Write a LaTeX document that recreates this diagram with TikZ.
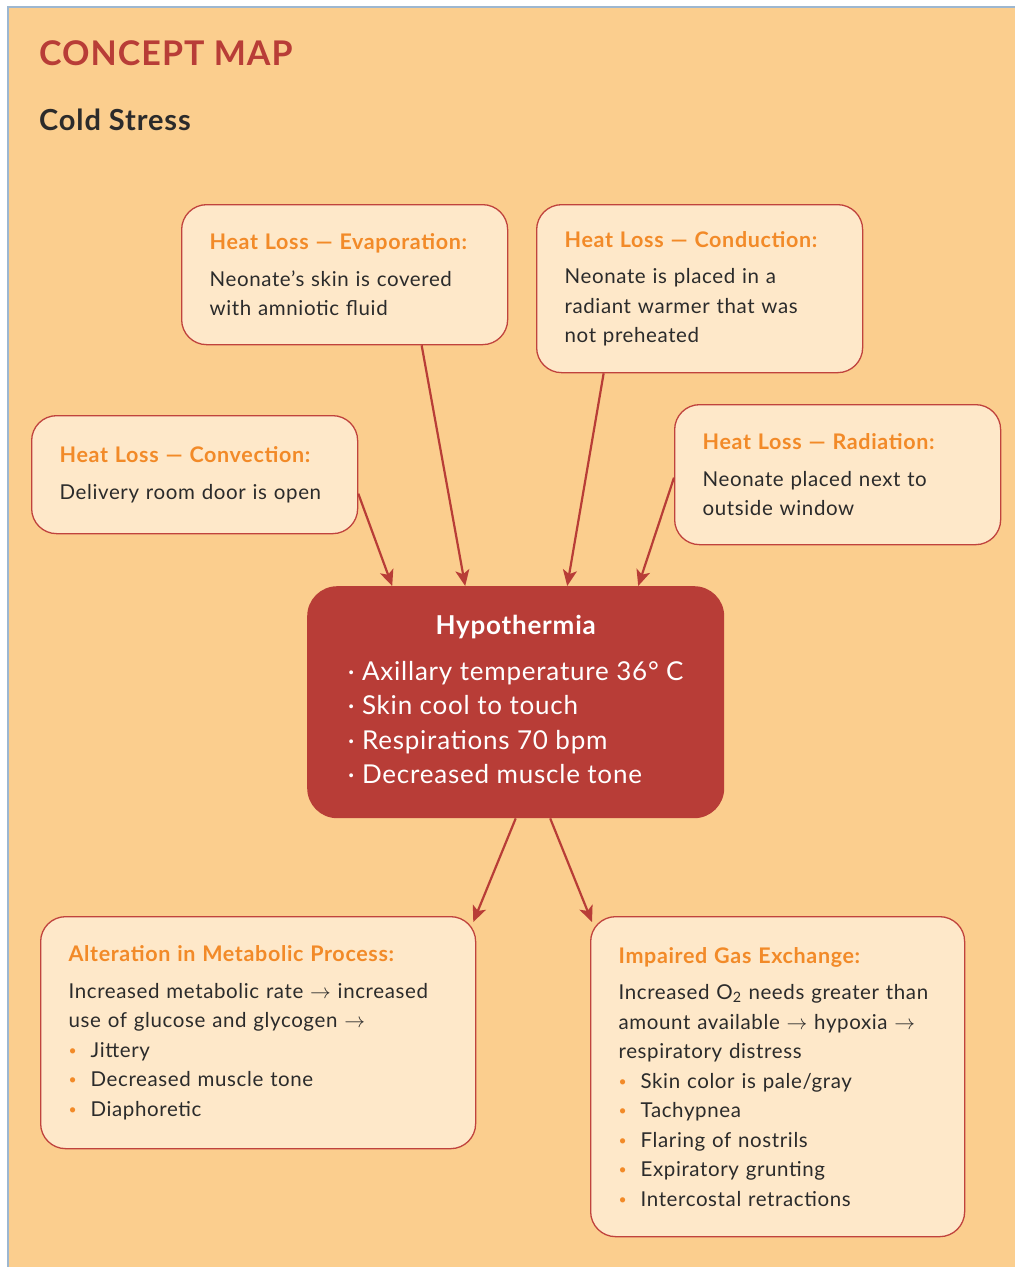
\documentclass[tikz,border=0pt]{standalone}
\usepackage{fontspec}
\setmainfont{Lato}[LetterSpace=3]
\usetikzlibrary{arrows.meta,positioning}

\definecolor{pagebg}{HTML}{FBCE8E}
\definecolor{boxfill}{HTML}{FEE8C9}
\definecolor{boxline}{HTML}{C0433D}
\definecolor{mapred}{HTML}{B83D37}
\definecolor{headorange}{HTML}{F28A28}
\definecolor{bodytext}{HTML}{2B2B2B}
\definecolor{frameline}{HTML}{9DB7D0}

\newcommand{\boxhead}[1]{\textcolor{headorange}{\fontsize{21.5}{29.5}\selectfont\bfseries #1}}
\newcommand{\orangedot}{\makebox[22pt][l]{\textcolor{headorange}{\fontsize{14}{14}\selectfont\raisebox{2pt}{•}}}}

\tikzset{
	conceptbox/.style={draw=boxline, fill=boxfill, line width=1.3pt, rounded corners=25pt,
		anchor=north west, align=left, inner xsep=28pt, inner ysep=0pt, text=bodytext,
		font=\fontsize{20.5}{29.5}\selectfont},
	centrebox/.style={fill=mapred, rounded corners=30pt, anchor=north west, text=white,
		minimum width=417pt, minimum height=232pt, font=\fontsize{26}{34.6}\selectfont},
	link/.style={draw=mapred, line width=2.2pt, -{Stealth[length=16pt,width=14pt,inset=4pt]}},
}

\begin{document}
\begin{tikzpicture}[x=1pt, y=-1pt]
	\useasboundingbox (0,0) rectangle (1015,1267);
	\fill[white] (0,0) rectangle (1015,1267);
	\fill[pagebg] (8,7) rectangle (1015,1267);
	\draw[frameline, line width=1.5pt] (8,1267) -- (8,7) -- (1015,7);
	
	% titles
	\node[anchor=base west, inner sep=0pt, mapred, font=\fontsize{34}{34}\selectfont\bfseries] (title) at (39,65) {CONCEPT MAP};
	\node[anchor=base west, inner sep=0pt, bodytext, font=\fontsize{29}{29}\selectfont\bfseries] (sub) at (39,130) {Cold Stress};
	
	% heat loss boxes
	\node[conceptbox, text width=270pt, minimum height=140pt] (evap) at (181,204)
		{\boxhead{Heat Loss — Evaporation:}\\[7pt]
		 Neonate’s skin is covered\\ with amniotic fluid};
	\node[conceptbox, text width=270pt, minimum height=168pt] (cond) at (536,204)
		{\boxhead{Heat Loss — Conduction:}\\[7pt]
		 Neonate is placed in a\\ radiant warmer that was\\ not preheated};
	\node[conceptbox, text width=270pt, minimum height=118pt] (conv) at (31,415)
		{\boxhead{Heat Loss — Convection:}\\[7pt]
		 Delivery room door is open};
	\node[conceptbox, text width=270pt, minimum height=140pt] (rad) at (674,404)
		{\boxhead{Heat Loss — Radiation:}\\[7pt]
		 Neonate placed next to\\ outside window};
	
	% centre
	\node[centrebox] (hypo) at (307,586)
		{\begin{tabular}{@{}l@{}}
			\multicolumn{1}{@{}c@{}}{\bfseries\fontsize{26}{30}\selectfont Hypothermia}\\[11pt]
			· Axillary temperature 36° C\\
			· Skin cool to touch\\
			· Respirations 70 bpm\\
			· Decreased muscle tone
		\end{tabular}};
	
	% outcome boxes
	\node[conceptbox, text width=379pt, minimum height=232pt] (metab) at (40,916)
		{\boxhead{Alteration in Metabolic Process:}\\[7pt]
		 Increased metabolic rate $\rightarrow$ increased\\
		 use of glucose and glycogen $\rightarrow$\\
		 \orangedot Jittery\\
		 \orangedot Decreased muscle tone\\
		 \orangedot Diaphoretic};
	\node[conceptbox, text width=318pt, minimum height=320pt] (gas) at (590,916)
		{\boxhead{Impaired Gas Exchange:}\\[7pt]
		 Increased O\textsubscript{2} needs greater than\\
		 amount available $\rightarrow$ hypoxia $\rightarrow$\\
		 respiratory distress\\
		 \orangedot Skin color is pale/gray\\
		 \orangedot Tachypnea\\
		 \orangedot Flaring of nostrils\\
		 \orangedot Expiratory grunting\\
		 \orangedot Intercostal retractions};
	
	% arrows
	\draw[link] ([yshift=-19pt]conv.east) to ([xshift=-123.5pt]hypo.north);
	\draw[link] ([xshift=77pt]evap.south) to ([xshift=-50.5pt]hypo.north);
	\draw[link] ([xshift=-96pt]cond.south) to ([xshift=51.5pt]hypo.north);
	\draw[link] ([yshift=-3pt]rad.west) to ([xshift=122.5pt]hypo.north);
	\draw[link] (hypo.south) to ([xshift=-3pt,yshift=-6pt]metab.north east);
	\draw[link] ([xshift=34.5pt]hypo.south) to ([xshift=2pt,yshift=-6pt]gas.north west);
\end{tikzpicture}
\end{document}
